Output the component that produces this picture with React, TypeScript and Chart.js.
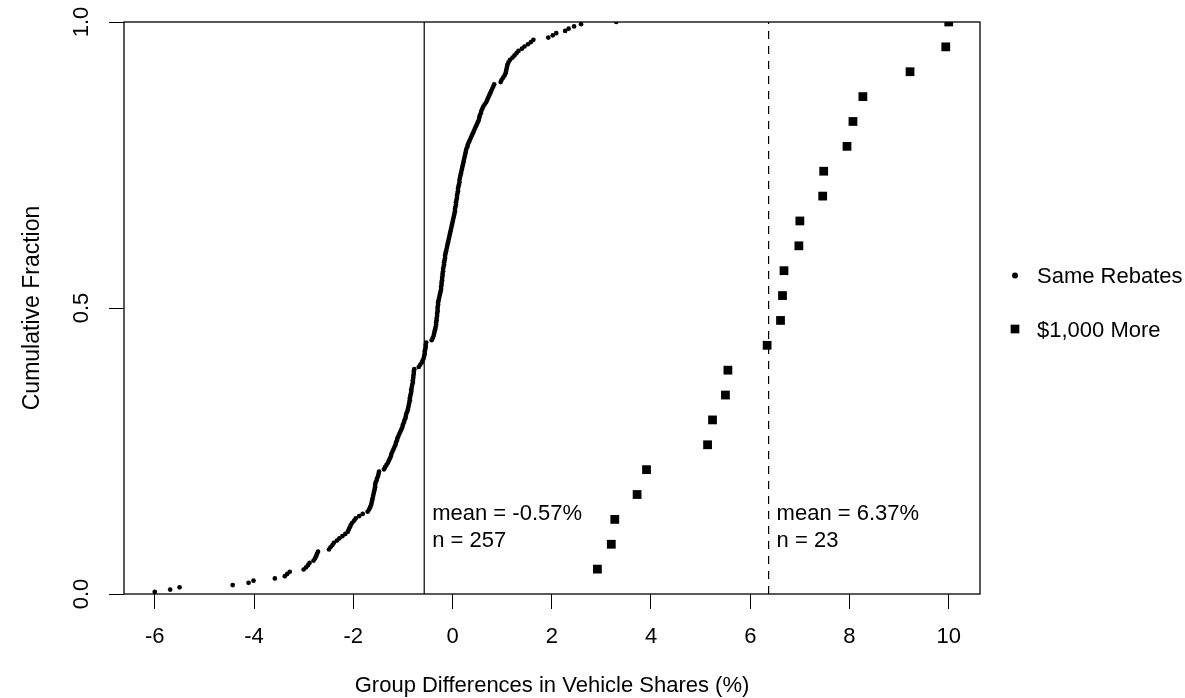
import React, { useEffect, useRef } from "react";
import { Chart, registerables } from "chart.js";

Chart.register(...registerables);

// Same Rebates group differences (%) (sorted)
const sameRebates: number[] = [
  -6.0, -5.69, -5.5, -4.43, -4.11, -4.01, -3.58, -3.38, -3.33, -3.28, -3.0, -2.95, -2.91, -2.88, -2.8, -2.77, -2.75, -2.73, -2.71,
  -2.49, -2.46, -2.42, -2.39, -2.33, -2.28, -2.22, -2.16, -2.11, -2.09, -2.07, -2.05, -2.02, -1.98, -1.95, -1.88, -1.81, -1.71, -1.68, -1.66, -1.64, -1.63,
  -1.62, -1.61, -1.6, -1.59, -1.58, -1.57, -1.56, -1.56, -1.55, -1.53, -1.52, -1.5, -1.49, -1.48,
  -1.38, -1.36, -1.33, -1.3, -1.28, -1.26, -1.24, -1.23, -1.21, -1.19, -1.17, -1.15, -1.14, -1.12, -1.11,
  -1.09, -1.07, -1.05, -1.03, -1.01, -1.0, -0.98, -0.97, -0.95, -0.94, -0.93, -0.91, -0.9,
  -0.89, -0.88, -0.87, -0.86, -0.86, -0.85, -0.84, -0.83, -0.83, -0.82, -0.81, -0.8, -0.8, -0.79, -0.79, -0.78, -0.78, -0.77,
  -0.68, -0.65, -0.62, -0.6, -0.58, -0.57, -0.56, -0.56, -0.55, -0.54, -0.54, -0.53,
  -0.42, -0.4, -0.38, -0.37, -0.36, -0.35, -0.34, -0.33, -0.33, -0.32, -0.32, -0.31, -0.31, -0.3, -0.3, -0.3, -0.29, -0.29,
  -0.28, -0.27, -0.26, -0.25, -0.24, -0.23, -0.23, -0.22, -0.22, -0.21, -0.21, -0.2, -0.2, -0.19, -0.19, -0.18, -0.17, -0.17, -0.16, -0.15, -0.15, -0.14, -0.13,
  -0.12, -0.11, -0.1, -0.09, -0.08, -0.07, -0.06, -0.05, -0.04, -0.03, -0.02, -0.01, 0.0, 0.01, 0.02, 0.03, 0.04,
  0.05, 0.05, 0.06, 0.07, 0.07, 0.08, 0.09, 0.09, 0.1, 0.11, 0.11, 0.12, 0.13, 0.14, 0.14, 0.15, 0.16, 0.17,
  0.18, 0.19, 0.2, 0.21, 0.22, 0.23, 0.24, 0.25, 0.26, 0.27, 0.28, 0.3, 0.31,
  0.33, 0.35, 0.37, 0.39, 0.41, 0.43, 0.45, 0.47, 0.49, 0.51, 0.53, 0.54, 0.55, 0.57, 0.58,
  0.6, 0.62, 0.65, 0.68, 0.7, 0.72, 0.74, 0.76, 0.78, 0.8, 0.82, 0.84,
  0.97, 0.99, 1.02, 1.05, 1.07, 1.08, 1.09, 1.1, 1.11, 1.13, 1.16, 1.21, 1.25, 1.29, 1.33, 1.4, 1.45, 1.52, 1.58,
  1.63, 1.93, 2.02, 2.09, 2.27, 2.34, 2.45, 2.59, 3.3,
];

// $1,000 More group differences (%)
const thousandMore: number[] = [
  2.92, 3.2, 3.27, 3.72, 3.91, 5.14, 5.24, 5.5, 5.55, 6.34, 6.61, 6.65,
  6.68, 6.98, 7.0, 7.46, 7.48, 7.95, 8.07, 8.27, 9.22, 9.94, 10.0,
];

const meanSame = -0.57;
const meanMore = 6.37;

const xTicks: number[] = [-6, -4, -2, 0, 2, 4, 6, 8, 10];
const yTicks: number[] = [0, 0.5, 1];
const yTickLabels: string[] = ["0.0", "0.5", "1.0"];
const seriesLabels: string[] = ["Same Rebates", "$1,000 More"];
const xTitle = "Group Differences in Vehicle Shares (%)";
const yTitle = "Cumulative Fraction";

const FONT = '"Liberation Sans", Arial, Helvetica, sans-serif';
const FONT_SIZE = 22;

function ecdf(values: number[]) {
  const s = [...values].sort((a, b) => a - b);
  return s.map((x, i) => ({ x, y: (i + 1) / s.length }));
}

const decorPlugin = {
  id: "rDecor",
  afterDraw(chart: any) {
    const { ctx, chartArea: a, scales } = chart;
    const xs = scales.x;
    const ys = scales.y;
    ctx.save();
    // plot box
    ctx.strokeStyle = "#000";
    ctx.lineWidth = 1.3;
    ctx.strokeRect(a.left, a.top, a.right - a.left, a.bottom - a.top);

    ctx.fillStyle = "#000";
    ctx.font = `${FONT_SIZE}px ${FONT}`;

    // y tick labels (rotated, R style)
    yTicks.forEach((v, i) => {
      const py = ys.getPixelForValue(v);
      ctx.save();
      ctx.translate(a.left - 35.7, py);
      ctx.rotate(-Math.PI / 2);
      ctx.textAlign = "center";
      ctx.textBaseline = "alphabetic";
      ctx.fillText(yTickLabels[i], 0, 0);
      ctx.restore();
    });

    // y title
    ctx.save();
    ctx.font = `23px ${FONT}`;
    ctx.translate(a.left - 85.5, (a.top + a.bottom) / 2);
    ctx.rotate(-Math.PI / 2);
    ctx.textAlign = "center";
    ctx.textBaseline = "alphabetic";
    ctx.fillText(yTitle, 0, 0);
    ctx.restore();

    // x title
    ctx.textAlign = "center";
    ctx.textBaseline = "alphabetic";
    ctx.fillText(xTitle, (a.left + a.right) / 2, a.bottom + 97.5);

    // mean annotations
    ctx.textAlign = "left";
    const ann = [
      { m: meanSame, n: sameRebates.length },
      { m: meanMore, n: thousandMore.length },
    ];
    ann.forEach(({ m, n }) => {
      const px = xs.getPixelForValue(m) + 8;
      ctx.fillText(`mean = ${m.toFixed(2)}%`, px, a.bottom - 74);
      ctx.fillText(`n = ${n}`, px, a.bottom - 47.3);
    });

    // legend (outside right)
    const mx = a.right + 35;
    const tx = a.right + 57;
    ctx.beginPath();
    ctx.arc(mx, 275.5, 3, 0, Math.PI * 2);
    ctx.fill();
    ctx.fillText(seriesLabels[0], tx, 283.3);
    const s = 8.7;
    ctx.fillRect(mx - s / 2, 329 - s / 2, s, s);
    ctx.fillText(seriesLabels[1], tx, 336.5);

    ctx.restore();
  },
};

export default function App() {
  const ref = useRef<HTMLCanvasElement | null>(null);

  useEffect(() => {
    document.body.style.margin = "0";
    const canvas = ref.current;
    if (!canvas) return;
    const gridOpts = {
      drawOnChartArea: false,
      drawTicks: true,
      tickLength: 15,
      color: "#000",
      lineWidth: 1,
    };
    const chart = new Chart(canvas, {
      type: "scatter",
      data: {
        datasets: [
          {
            label: seriesLabels[0],
            data: ecdf(sameRebates),
            pointStyle: "circle",
            pointRadius: 2.35,
            borderWidth: 0,
            backgroundColor: "#000",
            borderColor: "#000",
            clip: 0,
          } as any,
          {
            label: seriesLabels[1],
            data: ecdf(thousandMore),
            pointStyle: "rect",
            pointRadius: 6.2,
            borderWidth: 0,
            backgroundColor: "#000",
            borderColor: "#000",
            clip: 0,
          } as any,
          {
            type: "line",
            label: "mean same",
            data: [
              { x: meanSame, y: 0 },
              { x: meanSame, y: 1 },
            ],
            borderColor: "#000",
            borderWidth: 1.2,
            pointRadius: 0,
            clip: 0,
          } as any,
          {
            type: "line",
            label: "mean more",
            data: [
              { x: meanMore, y: 0 },
              { x: meanMore, y: 1 },
            ],
            borderColor: "#000",
            borderWidth: 1.2,
            borderDash: [8, 7],
            pointRadius: 0,
            clip: 0,
          } as any,
        ],
      },
      options: {
        animation: false,
        responsive: false,
        devicePixelRatio: 1,
        layout: { padding: { top: 22, right: 205, left: 0, bottom: 0 } },
        plugins: {
          legend: { display: false },
          tooltip: { enabled: false },
        },
        scales: {
          x: {
            type: "linear",
            min: -6.62,
            max: 10.63,
            afterBuildTicks: (s: any) => {
              s.ticks = xTicks.map((v) => ({ value: v }));
            },
            afterFit: (s: any) => {
              s.height = 104;
            },
            grid: gridOpts,
            border: { display: false },
            ticks: {
              color: "#000",
              font: { family: FONT, size: FONT_SIZE },
              padding: 15,
              maxRotation: 0,
              minRotation: 0,
              autoSkip: false,
              callback: (v: any) => String(v),
            },
          },
          y: {
            type: "linear",
            min: 0,
            max: 1,
            afterBuildTicks: (s: any) => {
              s.ticks = yTicks.map((v) => ({ value: v }));
            },
            afterFit: (s: any) => {
              s.width = 124;
            },
            grid: gridOpts,
            border: { display: false },
            ticks: { display: false },
          },
        },
      } as any,
      plugins: [decorPlugin],
    });
    return () => chart.destroy();
  }, []);

  return (
    <div style={{ width: 1185, height: 698 }}>
      <canvas ref={ref} width={1185} height={698} style={{ display: "block" }} />
    </div>
  );
}
